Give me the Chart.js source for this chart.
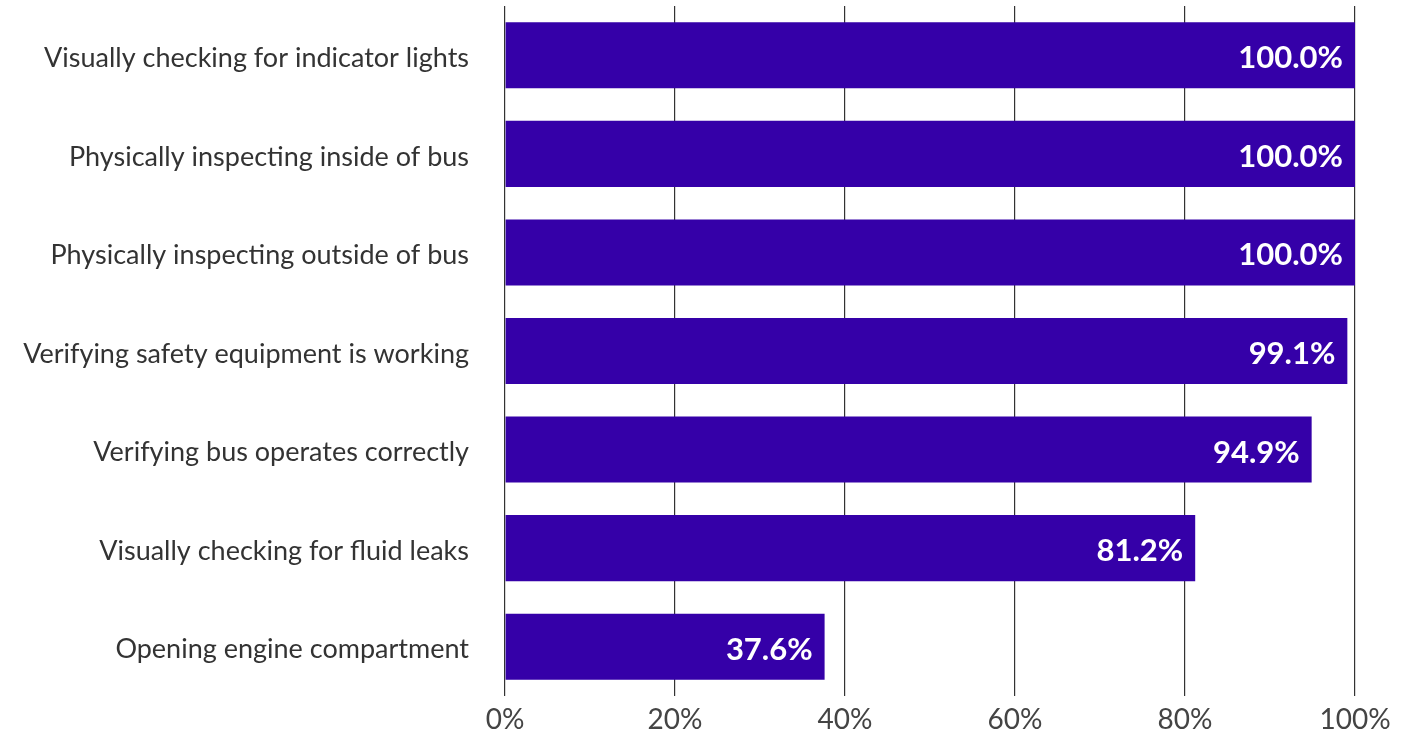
<!DOCTYPE html>
<html>
<head>
<meta charset="utf-8">
<script src="https://cdn.jsdelivr.net/npm/chart.js@4/dist/chart.umd.min.js"></script>
<style>
  body { margin: 0; background: #fff; }
</style>
</head>
<body>
<canvas id="myChart" width="1410" height="736"></canvas>
<script>
// data
const categories = [
    'Visually checking for indicator lights',
    'Physically inspecting inside of bus',
    'Physically inspecting outside of bus',
    'Verifying safety equipment is working',
    'Verifying bus operates correctly',
    'Visually checking for fluid leaks',
    'Opening engine compartment'
];
const percents = [100.0, 100.0, 100.0, 99.1, 94.9, 81.2, 37.6];
const xTicks = [0, 20, 40, 60, 80, 100];

// value labels inside the bar end
const barLabels = {
    id: 'barLabels',
    afterDatasetsDraw(chart) {
        const ctx = chart.ctx;
        const meta = chart.getDatasetMeta(0);
        ctx.save();
        ctx.fillStyle = '#ffffff';
        ctx.font = 'bold 31px Lato, "Open Sans", sans-serif';
        ctx.textAlign = 'right';
        ctx.textBaseline = 'middle';
        meta.data.forEach((bar, i) => {
            ctx.fillText(percents[i].toFixed(1) + '%', bar.x - 12, bar.y + 3);
        });
        ctx.restore();
    }
};

const data = {
    labels: categories,
    datasets: [{
        data: percents,
        backgroundColor: '#3500a8',
        borderWidth: 0,
        barPercentage: 0.67,
        categoryPercentage: 1
    }]
};

const options = {
    indexAxis: 'y',
    responsive: false,
    animation: false,
    layout: { padding: { top: 6, right: 55, left: 0, bottom: 0 } },
    plugins: {
        legend: { display: false },
        tooltip: { enabled: false }
    },
    scales: {
        x: {
            min: 0,
            max: 100,
            afterBuildTicks: (scale) => {
                scale.ticks = xTicks.map(v => ({ value: v }));
            },
            afterFit: (scale) => { scale.height = 40; },
            border: { display: false },
            grid: { color: '#333333', lineWidth: 1.2, drawTicks: false },
            ticks: {
                color: '#444444',
                font: { family: 'Lato, "Open Sans", sans-serif', size: 28 },
                padding: 7,
                callback: (v) => v + '%'
            }
        },
        y: {
            afterFit: (scale) => {
                scale.width = 505;
                scale.paddingTop = 0;
                scale.paddingBottom = 0;
            },
            border: { display: false },
            grid: { display: false, drawTicks: false },
            ticks: {
                color: '#333333',
                font: { family: 'Lato, "Open Sans", sans-serif', size: 27 },
                padding: 36,
                labelOffset: 3
            }
        }
    }
};

const config = {
    type: 'bar',
    data,
    options,
    plugins: [barLabels]
};

const myChart = new Chart(document.getElementById('myChart'), config);
</script>
</body>
</html>
